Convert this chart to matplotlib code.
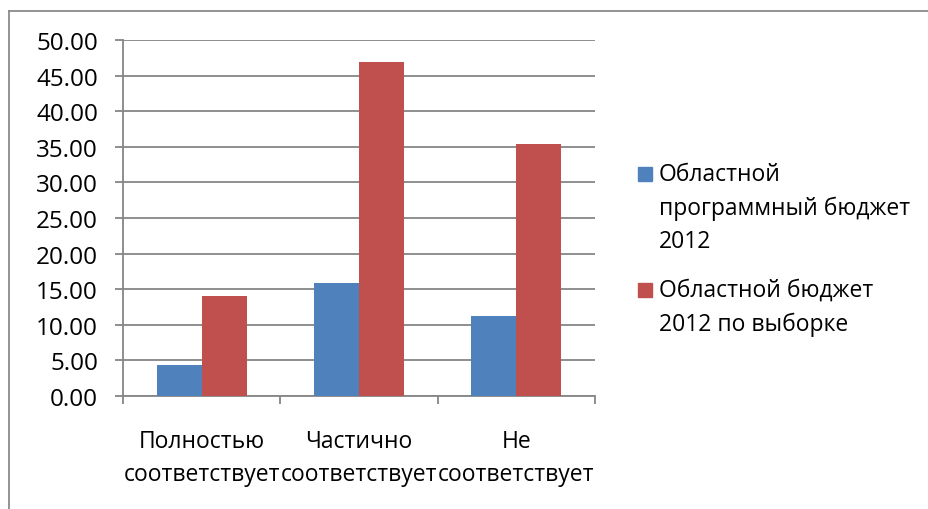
import matplotlib
matplotlib.use("Agg")
import matplotlib.pyplot as plt
from matplotlib.patches import Rectangle
from matplotlib.lines import Line2D
import numpy as np

categories = ["Полностью\nсоответствует", "Частично\nсоответствует", "Не\nсоответствует"]
series_names = ["Областной\nпрограммный бюджет\n2012", "Областной бюджет\n2012 по выборке"]
blue_values = [4.3, 15.9, 11.2]
red_values = [14.0, 46.9, 35.4]
y_ticks = [0, 5, 10, 15, 20, 25, 30, 35, 40, 45, 50]
y_tick_labels = ["0.00", "5.00", "10.00", "15.00", "20.00", "25.00", "30.00", "35.00", "40.00", "45.00", "50.00"]

BLUE = "#4F81BD"
RED = "#C0504D"
GRAY = "#868686"
FS = 16.5

plt.rcParams['font.family'] = ['Open Sans', 'DejaVu Sans']

W, H = 929, 510
fig = plt.figure(figsize=(W / 100, H / 100), dpi=100)

# axes in pixel coords: x 123..595, y 41..397
ax = fig.add_axes([123 / W, 1 - 397 / H, (595 - 123) / W, (397 - 41) / H])

x = np.arange(len(categories))
bw = 0.286
ax.bar(x - bw / 2, blue_values, width=bw, color=BLUE, zorder=3)
ax.bar(x + bw / 2, red_values, width=bw, color=RED, zorder=3)

ax.set_xlim(-0.5, len(categories) - 0.5)
ax.set_ylim(0, 50)
ax.set_yticks(y_ticks)
ax.set_yticklabels(y_tick_labels)
ax.yaxis.grid(True, color=GRAY, linewidth=1.3, zorder=0)
ax.set_axisbelow(True)

# category boundary ticks
ax.set_xticks(np.arange(len(categories) + 1) - 0.5)
ax.set_xticklabels([])
ax.set_xticks(x, minor=True)
ax.set_xticklabels(categories, minor=True, fontsize=FS, linespacing=1.5)
ax.tick_params(axis='x', which='major', length=6, width=1.3, color=GRAY, direction='out')
ax.tick_params(axis='x', which='minor', length=0, pad=24)
ax.tick_params(axis='y', length=6, width=1.3, color=GRAY, labelsize=17.5, pad=12)

for s in ['top', 'right']:
    ax.spines[s].set_visible(False)
for s in ['left', 'bottom']:
    ax.spines[s].set_color(GRAY)
    ax.spines[s].set_linewidth(1.3)

# chart border (cropped)
fig.add_artist(Line2D([9 / W, 1], [1 - 11.5 / H, 1 - 11.5 / H], color="#8A8A8A", lw=1.3, transform=fig.transFigure))
fig.add_artist(Line2D([9 / W, 9 / W], [0, 1 - 11.5 / H], color="#8A8A8A", lw=1.3, transform=fig.transFigure))

# legend (manual)
legend_colors = [BLUE, RED]
legend_tops = [168, 284]
for name, col, top in zip(series_names, legend_colors, legend_tops):
    fig.add_artist(Rectangle((638 / W, 1 - (top + 14) / H), 14 / W, 14 / H, color=col, transform=fig.transFigure))
    fig.text(659 / W, 1 - (top - 5) / H, name, fontsize=FS, va='top', ha='left', linespacing=1.5)

fig.savefig("out.png", dpi=100)
